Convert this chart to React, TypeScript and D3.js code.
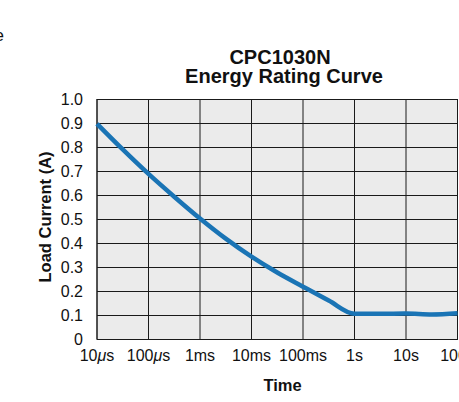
import React from "react";
import * as d3 from "d3";

const timeSec = [1e-5, 3.16e-5, 1e-4, 3.16e-4, 1e-3, 3.16e-3, 1e-2, 3.16e-2, 1e-1, 3.16e-1, 1, 3.16, 10, 31.6, 100];
const loadCurrent = [0.897, 0.79, 0.688, 0.593, 0.502, 0.418, 0.343, 0.277, 0.218, 0.16, 0.105, 0.105, 0.106, 0.102, 0.107];

const xTickValues = [1e-5, 1e-4, 1e-3, 1e-2, 1e-1, 1, 10, 100];
const xTickNumbers = ["10", "100", "1", "10", "100", "1", "10", "100"];
const xTickMicro = [true, true, false, false, false, false, false, false];
const xTickUnits = ["s", "s", "ms", "ms", "ms", "s", "s", "s"];
const yTickValues = [0, 0.1, 0.2, 0.3, 0.4, 0.5, 0.6, 0.7, 0.8, 0.9, 1.0];
const yTickLabels = ["0", "0.1", "0.2", "0.3", "0.4", "0.5", "0.6", "0.7", "0.8", "0.9", "1.0"];

const W = 459;
const H = 402;
const left = 97;
const right = 457.5;
const top = 99;
const bottom = 339;

export default function App() {
  const x = d3.scaleLog().domain([1e-5, 100]).range([left, right]);
  const y = d3.scaleLinear().domain([0, 1]).range([bottom, top]);
  const pts: [number, number][] = timeSec.map((t, i) => [x(t), y(loadCurrent[i])]);
  const line = d3.line().curve(d3.curveMonotoneX)(pts) || "";
  const font = "Arial, 'Liberation Sans', Helvetica, sans-serif";
  return (
    <svg width={W} height={H} style={{ position: "absolute", left: 0, top: 0, background: "#fff" }} fontFamily={font}>
      <text x={4} y={41} fontSize={17} textAnchor="end" fill="#111">e</text>
      <text x={280} y={64} fontSize={20} fontWeight="bold" textAnchor="middle" fill="#111">CPC1030N</text>
      <text x={284} y={83} fontSize={20} fontWeight="bold" textAnchor="middle" fill="#111">Energy Rating Curve</text>
      <rect x={left} y={top} width={right - left} height={bottom - top} fill="#ebebeb" />
      {yTickValues.map((v) => (
        <line key={"h" + v} x1={left} x2={right} y1={Math.round(y(v)) + 0.5} y2={Math.round(y(v)) + 0.5} stroke="#1a1a1a" strokeWidth={1} />
      ))}
      {xTickValues.map((v) => (
        <line key={"v" + v} x1={x(v)} x2={x(v)} y1={top} y2={bottom} stroke="#1a1a1a" strokeWidth={1} />
      ))}
      <rect x={left} y={top + 0.5} width={right - left} height={bottom - top} fill="none" stroke="#1a1a1a" strokeWidth={1} />
      <path d={line} fill="none" stroke="#1a74b5" strokeWidth={4.5} strokeLinecap="butt" />
      {yTickValues.map((v, i) => (
        <text key={"yl" + v} x={83} y={y(v) + 5.5} fontSize={16} textAnchor="end" fill="#111">{yTickLabels[i]}</text>
      ))}
      {xTickValues.map((v, i) => (
        <text key={"xl" + v} x={x(v)} y={361} fontSize={16} textAnchor="middle" fill="#111">
          {xTickNumbers[i]}
          {xTickMicro[i] ? <tspan fontStyle="italic">μ</tspan> : null}
          {xTickUnits[i]}
        </text>
      ))}
      <text x={282.5} y={390.5} fontSize={16.5} fontWeight="bold" textAnchor="middle" fill="#111">Time</text>
      <text transform={`translate(51,${(top + bottom) / 2 - 2}) rotate(-90)`} fontSize={16.5} fontWeight="bold" textAnchor="middle" fill="#111">Load Current (A)</text>
    </svg>
  );
}
